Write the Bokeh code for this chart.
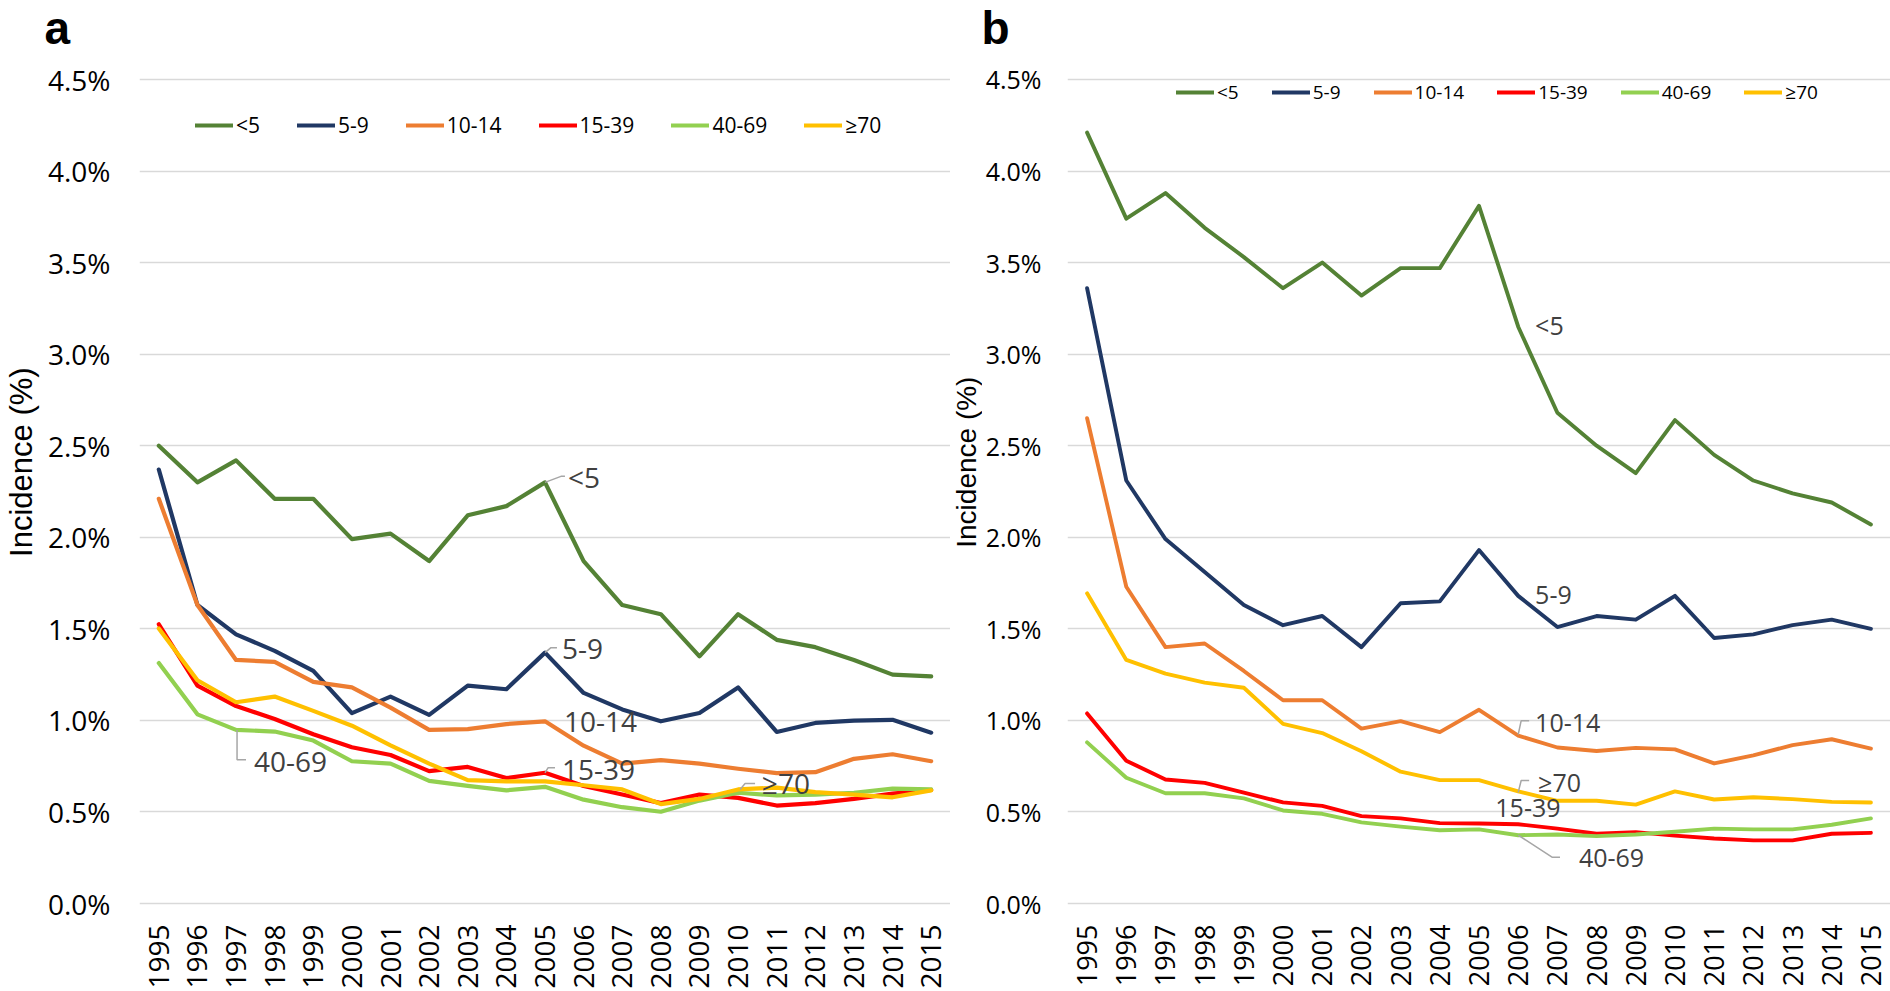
from math import pi
from bokeh.plotting import figure
from bokeh.models import (FactorRange, Range1d, Legend, LegendItem,
                          PrintfTickFormatter, SingleIntervalTicker)
from bokeh.layouts import row, column
from bokeh.embed import file_html
from bokeh.resources import INLINE
from bokeh.core.properties import value

# ---------------- data ----------------
YEARS = ["1995", "1996", "1997", "1998", "1999", "2000", "2001", "2002", "2003",
         "2004", "2005", "2006", "2007", "2008", "2009", "2010", "2011", "2012",
         "2013", "2014", "2015"]
GROUPS = ["<5", "5-9", "10-14", "15-39", "40-69", "≥70"]
COLORS = ["#548235", "#203864", "#ED7D31", "#FF0000", "#92D050", "#FFC000"]
PANELS = ["a", "b"]
Y_TITLE = "Incidence (%)"
Y_MAX = 4.5
Y_TICK_STEP = 0.5

# panel a (incidence, %)
A_LT5 = [2.50, 2.30, 2.42, 2.21, 2.21, 1.99, 2.02, 1.87, 2.12, 2.17, 2.30,
         1.87, 1.63, 1.58, 1.35, 1.58, 1.44, 1.40, 1.33, 1.25, 1.24]
A_5_9 = [2.37, 1.63, 1.47, 1.38, 1.27, 1.04, 1.13, 1.03, 1.19, 1.17, 1.37,
         1.15, 1.06, 0.995, 1.04, 1.18, 0.937, 0.986, 0.999, 1.003, 0.933]
A_10_14 = [2.21, 1.63, 1.33, 1.32, 1.21, 1.18, 1.07, 0.948, 0.952, 0.98, 0.995,
           0.862, 0.764, 0.783, 0.764, 0.736, 0.712, 0.717, 0.79, 0.815, 0.777]
A_15_39 = [1.525, 1.19, 1.078, 1.008, 0.924, 0.853, 0.811, 0.723, 0.746, 0.685, 0.714,
           0.642, 0.595, 0.548, 0.595, 0.577, 0.535, 0.548, 0.571, 0.60, 0.62]
A_40_69 = [1.313, 1.033, 0.948, 0.939, 0.89, 0.777, 0.764, 0.67, 0.642, 0.618, 0.637,
           0.567, 0.526, 0.501, 0.562, 0.605, 0.59, 0.595, 0.605, 0.627, 0.623]
A_GE70 = [1.502, 1.219, 1.099, 1.13, 1.052, 0.971, 0.864, 0.764, 0.674, 0.667, 0.667,
          0.646, 0.623, 0.543, 0.571, 0.623, 0.633, 0.608, 0.595, 0.58, 0.618]

# panel b (incidence, %)
B_LT5 = [4.21, 3.74, 3.88, 3.69, 3.53, 3.36, 3.50, 3.32, 3.47, 3.47, 3.81,
         3.15, 2.68, 2.50, 2.35, 2.64, 2.45, 2.31, 2.24, 2.19, 2.07]
B_5_9 = [3.36, 2.31, 1.99, 1.81, 1.63, 1.52, 1.57, 1.40, 1.64, 1.65, 1.93,
         1.68, 1.51, 1.57, 1.55, 1.68, 1.45, 1.47, 1.52, 1.55, 1.50]
B_10_14 = [2.65, 1.73, 1.40, 1.42, 1.27, 1.11, 1.11, 0.955, 0.996, 0.936, 1.058,
           0.917, 0.852, 0.833, 0.85, 0.842, 0.765, 0.809, 0.865, 0.897, 0.846]
B_15_39 = [1.038, 0.78, 0.677, 0.659, 0.606, 0.552, 0.533, 0.477, 0.465, 0.439, 0.437,
           0.433, 0.409, 0.381, 0.39, 0.371, 0.355, 0.345, 0.345, 0.381, 0.386]
B_40_69 = [0.88, 0.687, 0.602, 0.602, 0.574, 0.508, 0.49, 0.443, 0.42, 0.40, 0.405,
           0.373, 0.377, 0.368, 0.377, 0.392, 0.409, 0.405, 0.405, 0.43, 0.465]
B_GE70 = [1.694, 1.33, 1.255, 1.206, 1.178, 0.981, 0.931, 0.831, 0.72, 0.674, 0.674,
          0.612, 0.561, 0.561, 0.54, 0.612, 0.568, 0.58, 0.57, 0.555, 0.552]

SERIES_A = [A_LT5, A_5_9, A_10_14, A_15_39, A_40_69, A_GE70]
SERIES_B = [B_LT5, B_5_9, B_10_14, B_15_39, B_40_69, B_GE70]

# ---------------- styling / layout ----------------
FONT = "Open Sans"
TITLE_FONT = "Liberation Sans"
PAGE_W = 1890
HEAD_H = 60                 # header strip with the panel letters
MAIN_H = 931                # plots
TOP = 17                    # frame top at page y 77
BOTTOM = 83                 # frame bottom at page y 908
FRAME_H = MAIN_H - TOP - BOTTOM
PAD_PX = 2                  # keep the 0% / 4.5% grid lines inside the frame
PX_PER_PCT = (FRAME_H - 2 * PAD_PX) / Y_MAX
Y_PAD = PAD_PX / PX_PER_PCT
TITLE_CENTER_Y = 492.5      # page y of the y-title centres

T1_W = 44                   # strip holding panel a's y title
P1_W = 906
T2_W = 32                   # strip holding panel b's y title
P2_W = PAGE_W - T1_W - P1_W - T2_W
P1_LEFT = 93
P2_LEFT = 81


def blank_fig(width, height):
    f = figure(width=width, height=height, x_range=Range1d(0, width), y_range=Range1d(0, height),
               output_backend="svg", toolbar_location=None,
               x_axis_location=None, y_axis_location=None,
               min_border_left=0, min_border_right=0, min_border_top=0, min_border_bottom=0)
    f.grid.visible = False
    f.outline_line_color = None
    f.background_fill_color = "white"
    f.border_fill_color = "white"
    return f


def make_fig(width, border_left, ytick_font, xtick_font, ystandoff):
    p = figure(width=width, height=MAIN_H,
               x_range=FactorRange(*YEARS, range_padding=0, factor_padding=0),
               y_range=Range1d(-Y_PAD, Y_MAX + Y_PAD),
               output_backend="svg", toolbar_location=None,
               min_border_left=border_left, min_border_right=0,
               min_border_top=TOP, min_border_bottom=BOTTOM)
    p.outline_line_color = None
    p.background_fill_color = "white"
    p.border_fill_color = "white"
    p.xgrid.visible = False
    p.ygrid.grid_line_color = "#D9D9D9"
    p.ygrid.grid_line_width = 1.6
    p.yaxis.ticker = SingleIntervalTicker(interval=Y_TICK_STEP, num_minor_ticks=0)
    p.yaxis.formatter = PrintfTickFormatter(format="%.1f%%")
    for ax in (p.xaxis, p.yaxis):
        ax.axis_line_color = None
        ax.major_tick_line_color = None
        ax.minor_tick_line_color = None
        ax.major_tick_out = 0
        ax.major_tick_in = 0
        ax.major_label_text_font = FONT
        ax.major_label_text_color = "#000000"
    p.yaxis.major_label_text_font_size = f"{ytick_font}px"
    p.yaxis.major_label_standoff = ystandoff
    p.xaxis.major_label_text_font_size = f"{xtick_font}px"
    p.xaxis.major_label_orientation = pi / 2
    p.xaxis.major_label_standoff = 19
    return p


def add_series(p, series, lw):
    return [p.line(x=YEARS, y=vals, line_color=col, line_width=lw,
                   line_join="round", line_cap="round")
            for vals, col in zip(series, COLORS)]


def add_legend(p, rends, x, y, font, spacing):
    leg = Legend(items=[LegendItem(label=g, renderers=[r]) for g, r in zip(GROUPS, rends)],
                 orientation="horizontal", location=(x, y),
                 background_fill_alpha=0, border_line_color=None,
                 padding=0, margin=0, spacing=spacing, label_standoff=3,
                 glyph_width=38, glyph_height=30, label_height=30,
                 label_text_font=FONT, label_text_font_size=f"{font}px",
                 label_text_color="#000000")
    p.add_layout(leg)


def data_label(p, series, year, text, dx, dy, font, cat_px, leader=None):
    i = YEARS.index(year)
    v = series[i]
    x0 = i + 0.5
    if leader:
        p.line(x=[x0 + a / cat_px for a, b in leader],
               y=[v - b / PX_PER_PCT for a, b in leader],
               line_color="#A6A6A6", line_width=1.5)
    p.text(x=[x0 + dx / cat_px], y=[v - dy / PX_PER_PCT], text=[text],
           text_font=value(FONT), text_font_size=f"{font}px", text_color="#404040",
           text_align="left", text_baseline="middle")


def y_title(width, mid_x, size):
    t = blank_fig(width, MAIN_H)
    t.text(x=[mid_x], y=[MAIN_H - (TITLE_CENTER_Y - HEAD_H)], text=[Y_TITLE],
           angle=pi / 2, text_align="center", text_baseline="middle",
           text_font=value(TITLE_FONT), text_font_size=f"{size}px", text_color="#000000")
    return t


# ---------------- header (panel letters) ----------------
head = blank_fig(PAGE_W, HEAD_H)
head.text(x=[44, 981], y=[HEAD_H - 27, HEAD_H - 27], text=PANELS,
          text_align="left", text_baseline="middle",
          text_font=value(TITLE_FONT), text_font_style="bold",
          text_font_size="46px", text_color="#000000")

# ---------------- panel a ----------------
t1 = y_title(T1_W, 20.5, 31)
p1 = make_fig(P1_W, P1_LEFT, 28, 28, 29)
CAT1 = (P1_W - P1_LEFT) / len(YEARS)
r1 = add_series(p1, SERIES_A, 4.2)
add_legend(p1, r1, 56, FRAME_H - (125 - 77) - 15 - 3, 21, 37)
data_label(p1, A_LT5, "2005", "<5", 23, -5, 28, CAT1, [(0, 0), (16, -6), (20, -6)])
data_label(p1, A_5_9, "2005", "5-9", 17, -4, 28, CAT1, [(0, 0), (6, -5), (12, -5)])
data_label(p1, A_10_14, "2005", "10-14", 19, 1, 28, CAT1)
data_label(p1, A_15_39, "2005", "15-39", 17, -3, 28, CAT1, [(0, 0), (3, -5), (10, -5)])
data_label(p1, A_GE70, "2010", "≥70", 24, -6, 28, CAT1, [(2, 0), (7, -6), (17, -6)])
data_label(p1, A_40_69, "1997", "40-69", 18, 32, 28, CAT1, [(1, 0), (1, 30), (10, 30)])

# ---------------- panel b ----------------
t2 = y_title(T2_W, 16, 28)
p2 = make_fig(P2_W, P2_LEFT, 25, 27, 26)
CAT2 = (P2_W - P2_LEFT) / len(YEARS)
r2 = add_series(p2, SERIES_B, 3.9)
add_legend(p2, r2, 109, FRAME_H - (92 - 77) - 15 - 3, 19, 33)
data_label(p2, B_LT5, "2006", "<5", 17, -2, 25, CAT2)
data_label(p2, B_5_9, "2006", "5-9", 17, -1, 25, CAT2)
data_label(p2, B_10_14, "2006", "10-14", 17, -12.5, 25, CAT2, [(0, -1), (3, -15), (11, -15)])
data_label(p2, B_GE70, "2006", "≥70", 20, -9.5, 25, CAT2, [(0, 1), (3, -11), (11, -11)])
data_label(p2, B_15_39, "2006", "15-39", -23, -16, 25, CAT2)
data_label(p2, B_40_69, "2006", "40-69", 61, 23, 25, CAT2, [(0, 0), (34, 22), (42, 22)])

layout = column(head, row(t1, p1, t2, p2))
open("out.html", "w").write(file_html(layout, INLINE))
